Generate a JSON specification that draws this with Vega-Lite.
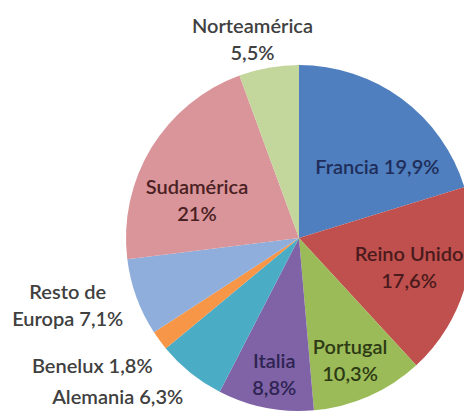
{
  "$schema": "https://vega.github.io/schema/vega-lite/v6.json",
  "width": 464,
  "height": 414,
  "autosize": {"type": "none"},
  "padding": 0,
  "background": "white",
  "config": {"view": {"stroke": null}, "text": {"font": "Lato", "fontSize": 20, "fontWeight": 600, "lineHeight": 27, "lineBreak": "\n", "align": "center", "baseline": "middle"}},
  "data": {
    "values": [
      {"orden": 1, "pais": "Francia", "valor": 19.9, "etiqueta": "Francia 19,9%"},
      {"orden": 2, "pais": "Reino Unido", "valor": 17.6, "etiqueta": "Reino Unido\n17,6%"},
      {"orden": 3, "pais": "Portugal", "valor": 10.3, "etiqueta": "Portugal\n10,3%"},
      {"orden": 4, "pais": "Italia", "valor": 8.8, "etiqueta": "Italia\n8,8%"},
      {"orden": 5, "pais": "Alemania", "valor": 6.3, "etiqueta": "Alemania 6,3%"},
      {"orden": 6, "pais": "Benelux", "valor": 1.8, "etiqueta": "Benelux 1,8%"},
      {"orden": 7, "pais": "Resto de Europa", "valor": 7.1, "etiqueta": "Resto de\nEuropa 7,1%"},
      {"orden": 8, "pais": "Sudamérica", "valor": 21, "etiqueta": "Sudamérica\n21%"},
      {"orden": 9, "pais": "Norteamérica", "valor": 5.5, "etiqueta": "Norteamérica\n5,5%"}
    ]
  },
  "encoding": {
    "theta": {"field": "valor", "type": "quantitative", "stack": true},
    "order": {"field": "orden", "type": "quantitative"}
  },
  "layer": [
    {
      "mark": {"type": "arc", "outerRadius": 173, "x": 299, "y": 238},
      "encoding": {
        "color": {
          "field": "pais",
          "type": "nominal",
          "scale": {
            "domain": ["Francia", "Reino Unido", "Portugal", "Italia", "Alemania", "Benelux", "Resto de Europa", "Sudamérica", "Norteamérica"],
            "range": ["#4F7FBE", "#C0504D", "#9BBB59", "#7F63A6", "#4BACC6", "#F79646", "#8FAEDC", "#D9959A", "#C3D69B"]
          },
          "legend": null
        }
      }
    },
    {
      "mark": {"type": "text", "x": 299, "y": 238, "radius": 105, "dx": 16, "dy": 14, "color": "#1F2D5A"},
      "encoding": {"text": {"condition": {"test": "datum.pais === 'Francia'", "field": "etiqueta"}, "value": ""}}
    },
    {
      "mark": {"type": "text", "x": 299, "y": 238, "radius": 114, "dy": -13, "color": "#4A1A1C"},
      "encoding": {"text": {"condition": {"test": "datum.pais === 'Reino Unido'", "field": "etiqueta"}, "value": ""}}
    },
    {
      "mark": {"type": "text", "x": 299, "y": 238, "radius": 134, "dx": -3, "dy": -13, "color": "#2D3A14"},
      "encoding": {"text": {"condition": {"test": "datum.pais === 'Portugal'", "field": "etiqueta"}, "value": ""}}
    },
    {
      "mark": {"type": "text", "x": 299, "y": 238, "radius": 138, "dx": 2, "dy": -11, "color": "#2E2452"},
      "encoding": {"text": {"condition": {"test": "datum.pais === 'Italia'", "field": "etiqueta"}, "value": ""}}
    },
    {
      "mark": {"type": "text", "x": 299, "y": 238, "radius": 109, "dx": -9, "dy": 7, "color": "#4A2022"},
      "encoding": {"text": {"condition": {"test": "datum.pais === 'Sudamérica'", "field": "etiqueta"}, "value": ""}}
    },
    {
      "mark": {"type": "text", "x": 299, "y": 238, "radius": 203, "dx": -11, "dy": -11, "color": "#404040"},
      "encoding": {"text": {"condition": {"test": "datum.pais === 'Norteamérica'", "field": "etiqueta"}, "value": ""}}
    },
    {
      "mark": {"type": "text", "x": 299, "y": 238, "radius": 243, "dx": -3, "dy": -28, "color": "#404040"},
      "encoding": {"text": {"condition": {"test": "datum.pais === 'Resto de Europa'", "field": "etiqueta"}, "value": ""}}
    },
    {
      "mark": {"type": "text", "x": 299, "y": 238, "radius": 243, "dx": -11, "dy": -15, "color": "#404040"},
      "encoding": {"text": {"condition": {"test": "datum.pais === 'Benelux'", "field": "etiqueta"}, "value": ""}}
    },
    {
      "mark": {"type": "text", "x": 299, "y": 238, "radius": 243, "dx": -29, "dy": -29, "color": "#404040"},
      "encoding": {"text": {"condition": {"test": "datum.pais === 'Alemania'", "field": "etiqueta"}, "value": ""}}
    }
  ]
}
